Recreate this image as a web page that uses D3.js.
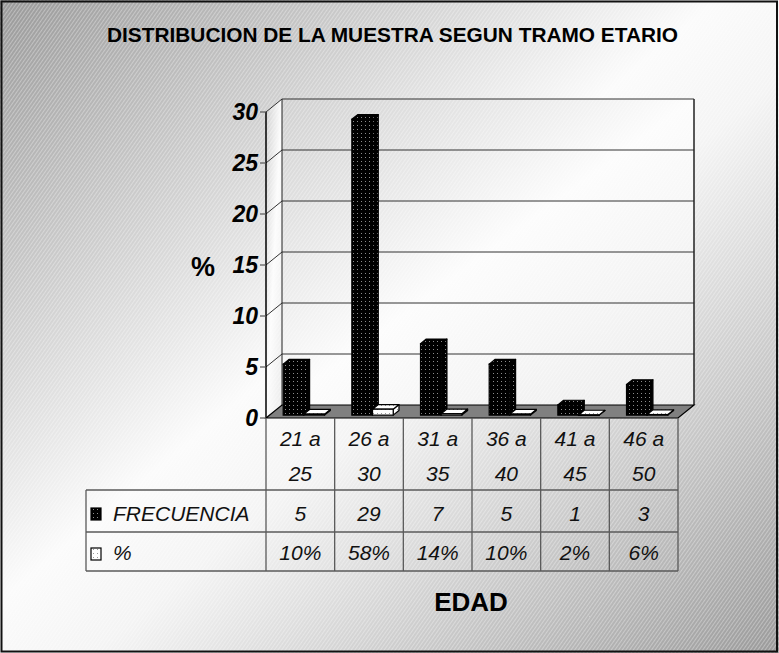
<!DOCTYPE html>
<html><head><meta charset="utf-8">
<script src="https://cdn.jsdelivr.net/npm/d3@7"></script>
<style>html,body{margin:0;padding:0;background:#fff}svg{display:block}</style>
</head><body><svg id="c" width="779" height="653"></svg>
<script>
const categories = ["21 a 25","26 a 30","31 a 35","36 a 40","41 a 45","46 a 50"];
const seriesNames = ["FRECUENCIA","%"];
const frecuencia = [5,29,7,5,1,3];
const porcentaje = [0.10,0.58,0.14,0.10,0.02,0.06];
const pctLabels = ["10%","58%","14%","10%","2%","6%"];
const yTicks = [0,5,10,15,20,25,30];
const titleText = "DISTRIBUCION DE LA MUESTRA SEGUN TRAMO ETARIO";
const xTitle = "EDAD";
const yTitle = "%";

const W = 779, H = 653;
const FONT = "'Liberation Sans', Arial, sans-serif";
const svg = d3.select("#c");
const defs = svg.append("defs");

function lin(id, stops){
  const g = defs.append("linearGradient").attr("id", id)
    .attr("x1",0).attr("y1",0).attr("x2",1).attr("y2",1);
  stops.forEach(s => g.append("stop").attr("offset", s[0]).attr("stop-color", s[1]));
}
lin("bgGrad", [[0,"#999999"],[0.46,"#fbfbfb"],[0.56,"#f4f4f4"],[1,"#9a9a9a"]]);
lin("wallGrad", [[0,"#d0d0d0"],[0.5,"#fcfcfc"],[1,"#ebebeb"]]);

const hatch = defs.append("pattern").attr("id","hatch").attr("patternUnits","userSpaceOnUse")
  .attr("width",3).attr("height",3).attr("patternTransform","rotate(35)");
hatch.append("rect").attr("x",0).attr("y",0).attr("width",1).attr("height",3).attr("fill","#ffffff").attr("opacity",0.32);

function dots(id, bg, dot){
  const p = defs.append("pattern").attr("id", id).attr("patternUnits","userSpaceOnUse")
    .attr("width",4).attr("height",4);
  p.append("rect").attr("width",4).attr("height",4).attr("fill",bg);
  p.append("rect").attr("x",1).attr("y",1).attr("width",1).attr("height",1).attr("fill",dot);
}
dots("patBlack","#000","#8c8c8c");
dots("patWhite","#fff","#9a9a9a");
const seriesFill = {"FRECUENCIA":"url(#patBlack)","%":"url(#patWhite)"};

svg.append("rect").attr("x",0).attr("y",0).attr("width",W).attr("height",H).attr("fill","url(#bgGrad)");
svg.append("rect").attr("x",0).attr("y",0).attr("width",W).attr("height",H).attr("fill","url(#hatch)");
svg.append("rect").attr("x",1.5).attr("y",1.5).attr("width",W-3.5).attr("height",H-3).attr("fill","none")
  .attr("stroke","#111").attr("stroke-width",2);

const frontY = 418, xL = 266, xR = 678;
const D = [16, -13];
const backY = frontY + D[1];
const yH = d3.scaleLinear().domain([0,30]).range([0,306]);
const xBand = d3.scaleBand().domain(categories).range([xL, xR]);
const xSeries = d3.scaleBand().domain(seriesNames).range([0, xBand.bandwidth()]).paddingInner(0).paddingOuter(0.66);

const wallTop = backY - yH(30);
const g = svg.append("g");
g.append("polygon").attr("points", [[xL, frontY - yH(30)],[xL+D[0], wallTop],[xL+D[0], backY],[xL, frontY]].join(" "))
  .attr("fill","url(#wallGrad)");
g.append("polygon").attr("points", [[xL+D[0], wallTop],[xR+D[0], wallTop],[xR+D[0], backY],[xL+D[0], backY]].join(" "))
  .attr("fill","url(#wallGrad)");
g.append("polygon").attr("points", [[xL, frontY - yH(30)],[xL+D[0], wallTop],[xR+D[0], wallTop],[xR+D[0], backY],[xL+D[0], backY],[xL, frontY]].join(" "))
  .attr("fill","url(#hatch)");

yTicks.forEach(v => {
  if (v === 0) return;
  const yb = backY - yH(v), yf = frontY - yH(v);
  g.append("line").attr("x1",xL+D[0]).attr("x2",xR+D[0]).attr("y1",yb).attr("y2",yb)
    .attr("stroke","#333").attr("stroke-width",1);
  g.append("line").attr("x1",xL).attr("x2",xL+D[0]).attr("y1",yf).attr("y2",yb)
    .attr("stroke","#333").attr("stroke-width",1);
});
g.append("line").attr("x1",xL+D[0]).attr("x2",xL+D[0]).attr("y1",wallTop).attr("y2",backY).attr("stroke","#222");
g.append("line").attr("x1",xR+D[0]).attr("x2",xR+D[0]).attr("y1",wallTop).attr("y2",backY).attr("stroke","#222").attr("stroke-width",1.5);

g.append("polygon").attr("points", [[xL, frontY],[xR, frontY],[xR+D[0], backY],[xL+D[0], backY]].join(" "))
  .attr("fill","#808080").attr("stroke","#000").attr("stroke-width",1.2);

g.append("line").attr("x1",xL).attr("x2",xL).attr("y1",frontY - yH(30)).attr("y2",frontY).attr("stroke","#000").attr("stroke-width",1.5);
yTicks.forEach(v => {
  const yf = frontY - yH(v);
  g.append("line").attr("x1",xL-6).attr("x2",xL).attr("y1",yf).attr("y2",yf).attr("stroke","#555").attr("stroke-width",1.2);
  g.append("text").attr("x",xL-8).attr("y",yf+8).attr("text-anchor","end")
    .attr("font-family",FONT).attr("font-size",23).attr("font-weight","bold").attr("font-style","italic")
    .attr("fill","#000").text(v);
});
g.append("text").attr("x",203).attr("y",276).attr("text-anchor","middle")
  .attr("font-family",FONT).attr("font-size",27).attr("font-weight","bold").attr("fill","#000").text(yTitle);

const tF = 0.22, tB = 0.58;
const off = [D[0]*tF, D[1]*tF];
const dd = [D[0]*(tB-tF), D[1]*(tB-tF)];
const barsG = svg.append("g");
categories.forEach((c, i) => {
  const vals = {"FRECUENCIA": frecuencia[i], "%": porcentaje[i]};
  seriesNames.forEach(s => {
    const x = xBand(c) + xSeries(s) + off[0];
    const w = xSeries.bandwidth();
    const yb = frontY + off[1];
    const h = yH(vals[s]);
    const yt = yb - h;
    const fill = seriesFill[s];
    const bg = barsG.append("g");
    bg.append("polygon").attr("points", [[x+w,yb],[x+w+dd[0],yb+dd[1]],[x+w+dd[0],yt+dd[1]],[x+w,yt]].join(" "))
      .attr("fill",fill).attr("stroke","#000").attr("stroke-width",1.2).attr("stroke-linejoin","round");
    bg.append("polygon").attr("points", [[x,yt],[x+dd[0],yt+dd[1]],[x+w+dd[0],yt+dd[1]],[x+w,yt]].join(" "))
      .attr("fill",fill).attr("stroke","#000").attr("stroke-width",1.2).attr("stroke-linejoin","round");
    bg.append("rect").attr("x",x).attr("y",yt).attr("width",w).attr("height",Math.max(h,0.5))
      .attr("fill",fill).attr("stroke","#000").attr("stroke-width",1.2);
  });
});

const tG = svg.append("g");
const tableLeft = 86, r1 = 490, r2 = 532, r3 = 571;
const lineC = "#5a5a5a";
[r1, r2, r3].forEach(y => tG.append("line").attr("x1",tableLeft).attr("x2",xR).attr("y1",y).attr("y2",y).attr("stroke",lineC).attr("stroke-width",1.3));
tG.append("line").attr("x1",tableLeft).attr("x2",tableLeft).attr("y1",r1).attr("y2",r3).attr("stroke",lineC).attr("stroke-width",1.3);
categories.concat([null]).forEach((c) => {
  const x = c === null ? xR : xBand(c);
  tG.append("line").attr("x1",x).attr("x2",x).attr("y1",frontY).attr("y2",r3).attr("stroke",lineC).attr("stroke-width",1.3);
});
function tx(x, y, t, anchor){
  tG.append("text").attr("x",x).attr("y",y).attr("text-anchor",anchor||"middle")
    .attr("font-family",FONT).attr("font-size",21).attr("font-style","italic").attr("fill","#111").text(t);
}
categories.forEach((c, i) => {
  const cx = xBand(c) + xBand.bandwidth()/2;
  const m = c.match(/^(.* a) (.*)$/);
  tx(cx, 446, m[1]);
  tx(cx, 481, m[2]);
  tx(cx, 521, frecuencia[i]);
  tx(cx, 560, pctLabels[i]);
});
tG.append("rect").attr("x",91).attr("y",508).attr("width",10).attr("height",12).attr("fill","url(#patBlack)").attr("stroke","#000").attr("stroke-width",1.2);
tG.append("rect").attr("x",91).attr("y",548).attr("width",10).attr("height",12).attr("fill","url(#patWhite)").attr("stroke","#000").attr("stroke-width",1.2);
tx(113, 521, seriesNames[0], "start");
tx(113, 560, seriesNames[1], "start");

svg.append("text").attr("x",392.5).attr("y",42).attr("text-anchor","middle")
  .attr("font-family",FONT).attr("font-size",20).attr("font-weight","bold").attr("fill","#000")
  .attr("textLength",571).attr("lengthAdjust","spacingAndGlyphs").text(titleText);
svg.append("text").attr("x",471).attr("y",611).attr("text-anchor","middle")
  .attr("font-family",FONT).attr("font-size",26).attr("font-weight","bold").attr("fill","#000").text(xTitle);
</script></body></html>
